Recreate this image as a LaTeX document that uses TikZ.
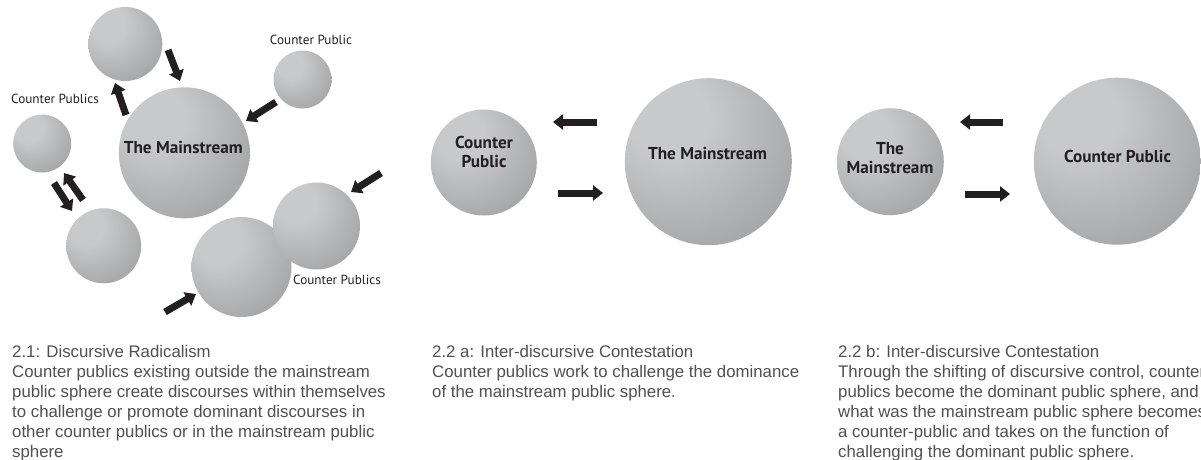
\documentclass[tikz,border=0pt]{standalone}
\usepackage{fontspec}
\setmainfont{Liberation Sans}
\newfontfamily\labelfont{PT Sans}
\newfontfamily\captionfont{Liberation Sans}
\usetikzlibrary{arrows.meta}

\definecolor{sphhl}{HTML}{C8C9CB}
\definecolor{sphmd}{HTML}{A0A1A3}
\definecolor{sphdk}{HTML}{666668}
\definecolor{ink}{HTML}{231F20}
\definecolor{captxt}{HTML}{505050}

% soft sphere: light spot to the upper left, darker rim
\pgfdeclareradialshading{sphere}{\pgfpoint{-14bp}{16bp}}{%
  color(0bp)=(sphhl); color(12bp)=(sphhl); color(40bp)=(sphmd);
  color(64bp)=(sphdk); color(72bp)=(sphdk)}

\tikzset{
  ball/.style={circle, inner sep=0pt, shading=sphere, minimum size=#1},
  biglbl/.style={font=\labelfont\bfseries\fontsize{17.2}{19}\selectfont, text=ink, inner sep=0pt, align=center},
  smalllbl/.style={font=\labelfont\fontsize{13.2}{15}\selectfont, text=ink, inner sep=0pt},
  caption/.style={font=\captionfont\fontsize{16.8}{20}\selectfont, text=captxt, inner sep=0pt, align=left, anchor=north west},
  blk/.style={draw=ink, line width=7pt, -{Triangle[width=15pt,length=10pt]}},
}

\begin{document}
\begin{tikzpicture}[x=1pt, y=-1pt]
\useasboundingbox (0,0) rectangle (1201,459);
\fill[white] (0,0) rectangle (1201,459);

% ---------- 2.1: Discursive Radicalism ----------
\node[ball=131pt] (main1) at (184.3,152.8) {};
\node[ball=74pt]  (top1)  at (125.3,44) {};
\node[ball=58pt]  (cp1)   at (302.5,79.5) {};
\node[ball=58pt]  (left1) at (42.2,143.5) {};
\node[ball=75pt]  (bl1)   at (103.7,245.8) {};
\node[ball=100pt] (bot1)  at (241.5,267) {};
\node[ball=87pt]  (rt1)   at (316.5,226) {};

\node[biglbl, anchor=base] (main1t) at (183.3,153) {The Mainstream};
\node[smalllbl, anchor=base] (cp1t) at (311,44) {Counter Public};
\node[smalllbl, anchor=base] (left1t) at (55,103) {Counter Publics};
\node[smalllbl, anchor=base] (rt1t) at (337,284) {Counter Publics};

\coordinate (a1s) at (168,50);  \coordinate (a1e) at (180,81);
\coordinate (a2s) at (126,115); \coordinate (a2e) at (115,83);
\coordinate (a3s) at (276,102); \coordinate (a3e) at (246,121);
\coordinate (a4s) at (54,183);  \coordinate (a4e) at (72,211);
\coordinate (a5s) at (83,200);  \coordinate (a5e) at (64,173);
\coordinate (a6s) at (381,173); \coordinate (a6e) at (351,192);
\coordinate (a7s) at (165,312); \coordinate (a7e) at (196,294);
\foreach \a in {a1,a2,a3,a4,a5,a6,a7}
  \draw[blk] (\a s) -- (\a e);

\node[caption] (cap1) at (12,345) {2.1: Discursive Radicalism\\
Counter publics existing outside the mainstream\\
public sphere create discourses within themselves\\
to challenge or promote dominant discourses in\\
other counter publics or in the mainstream public\\
sphere};

% ---------- 2.2 a ----------
\node[ball=106pt] (cp2)   at (483.8,162.5) {};
\node[ball=167pt] (main2) at (708.3,161.7) {};
\node[biglbl] (cp2t) at (484,152) {Counter\\Public};
\node[biglbl, anchor=base] (main2t) at (707.5,159) {The Mainstream};

\coordinate (b1s) at (597,122); \coordinate (b1e) at (553,122);
\coordinate (b2s) at (558,193); \coordinate (b2e) at (603,193);
\draw[blk] (b1s) -- (b1e);
\draw[blk] (b2s) -- (b2e);

\node[caption] (cap2) at (432,345) {2.2 a: Inter-discursive Contestation\\
Counter publics work to challenge the dominance\\
of the mainstream public sphere.};

% ---------- 2.2 b ----------
\node[ball=107pt] (main3) at (890.3,161.7) {};
\node[ball=167pt] (cp3)   at (1117.3,161.2) {};
\node[biglbl] (main3t) at (890,158) {The\\Mainstream};
\node[biglbl, anchor=base] (cp3t) at (1117.5,162) {Counter Public};

\coordinate (c1s) at (1003,122); \coordinate (c1e) at (960,122);
\coordinate (c2s) at (965,194);  \coordinate (c2e) at (1010,194);
\draw[blk] (c1s) -- (c1e);
\draw[blk] (c2s) -- (c2e);

\node[caption] (cap3) at (838,345) {2.2 b: Inter-discursive Contestation\\
Through the shifting of discursive control, counter\\
publics become the dominant public sphere, and\\
what was the mainstream public sphere becomes\\
a counter-public and takes on the function of\\
challenging the dominant public sphere.};
\end{tikzpicture}
\end{document}
